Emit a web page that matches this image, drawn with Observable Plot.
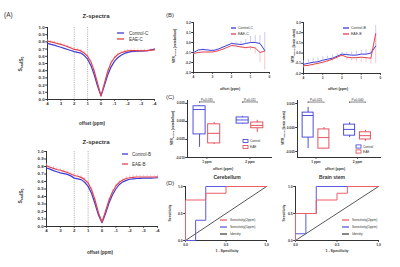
<!DOCTYPE html>
<html><head><meta charset="utf-8">
<script src="https://cdn.jsdelivr.net/npm/d3@7"></script>
<script src="https://cdn.jsdelivr.net/npm/@observablehq/plot@0.6"></script>
<style>
body{margin:0;background:#fff;}
#root{position:relative;width:400px;height:267px;overflow:hidden;background:#fff;}
</style></head><body><div id="root"></div>
<script>
// ---------- DATA ----------
const zOffsets = [4,3.75,3.5,3.25,3,2.75,2.5,2.25,2,1.75,1.5,1.25,1,0.75,0.5,0.25,0,-0.25,-0.5,-0.75,-1,-1.25,-1.5,-1.75,-2,-2.25,-2.5,-2.75,-3,-3.25,-3.5,-3.75,-4];
const zCtrlCereb = [0.78,0.765,0.755,0.74,0.725,0.71,0.695,0.68,0.665,0.655,0.645,0.61,0.56,0.47,0.34,0.18,0.05,0.19,0.34,0.45,0.53,0.58,0.615,0.64,0.655,0.665,0.668,0.67,0.67,0.675,0.68,0.69,0.70];
const zEaeCereb = [0.81,0.80,0.79,0.775,0.765,0.75,0.735,0.715,0.695,0.69,0.675,0.645,0.60,0.52,0.39,0.22,0.05,0.22,0.39,0.51,0.58,0.625,0.65,0.665,0.675,0.68,0.68,0.678,0.675,0.678,0.68,0.685,0.69];
const zEaeCerebErr = [0.02,0.02,0.02,0.02,0.02,0.02,0.02,0.02,0.025,0.02,0.02,0.02,0.025,0.03,0.03,0.02,0.01,0.02,0.03,0.03,0.025,0.02,0.02,0.02,0.02,0.02,0.02,0.02,0.02,0.02,0.02,0.02,0.02];
const zCtrlStem = [0.78,0.765,0.745,0.73,0.715,0.705,0.695,0.675,0.645,0.635,0.625,0.59,0.535,0.44,0.30,0.15,0.05,0.17,0.31,0.42,0.50,0.56,0.595,0.615,0.63,0.635,0.64,0.642,0.645,0.645,0.645,0.647,0.65];
const zEaeStem = [0.81,0.79,0.775,0.76,0.75,0.735,0.72,0.70,0.68,0.67,0.655,0.625,0.58,0.49,0.35,0.18,0.06,0.20,0.35,0.46,0.54,0.59,0.62,0.64,0.65,0.655,0.66,0.66,0.66,0.66,0.66,0.66,0.662];
const zEaeStemErr = [0.025,0.025,0.025,0.025,0.025,0.025,0.025,0.025,0.025,0.025,0.025,0.025,0.03,0.03,0.03,0.02,0.01,0.02,0.03,0.03,0.025,0.025,0.025,0.025,0.025,0.025,0.025,0.025,0.025,0.025,0.025,0.025,0.025];
const zXTicks = [4,3,2,1,0,-1,-2,-3,-4];
const zYTicks = [0,0.1,0.2,0.3,0.4,0.5,0.6,0.7,0.8,0.9,1.0];
const refOffsets = [2,1];

const mtrOffsets = [4,3.75,3.5,3.25,3,2.75,2.5,2.25,2,1.75,1.5,1.25,1,0.75,0.5,0.25];
const mtrCtrlCereb = [-0.10,-0.075,-0.07,-0.075,-0.08,-0.07,-0.05,-0.03,-0.01,-0.015,-0.02,-0.01,0.0,0.0,-0.01,-0.08];
const mtrCtrlCerebErr = [0.01,0.01,0.01,0.01,0.01,0.01,0.01,0.01,0.01,0.02,0.03,0.04,0.06,0.07,0.08,0.18];
const mtrEaeCereb = [-0.11,-0.10,-0.095,-0.095,-0.095,-0.085,-0.07,-0.05,-0.03,-0.035,-0.045,-0.05,-0.045,-0.055,-0.10,-0.085];
const mtrEaeCerebErr = [0.01,0.01,0.01,0.015,0.01,0.01,0.01,0.01,0.01,0.01,0.01,0.02,0.03,0.06,0.10,0.19];
const mtrCtrlStem = [-0.11,-0.10,-0.09,-0.085,-0.07,-0.06,-0.05,-0.03,-0.01,-0.015,-0.02,-0.02,-0.01,-0.01,0.0,0.07];
const mtrCtrlStemErr = [0.035,0.04,0.04,0.035,0.035,0.03,0.03,0.025,0.02,0.02,0.03,0.04,0.04,0.04,0.04,0.2];
const mtrEaeStem = [-0.125,-0.12,-0.11,-0.10,-0.09,-0.075,-0.06,-0.04,-0.02,-0.04,-0.045,-0.045,-0.04,-0.045,-0.05,0.19];
const mtrEaeStemErr = [0.02,0.02,0.02,0.02,0.02,0.02,0.02,0.02,0.02,0.03,0.03,0.04,0.05,0.05,0.06,0.29];
const mtrXTicks = [4,3,2,1,0];
const mtrYTicksCereb = [-0.3,-0.2,-0.1,0,0.1,0.2];
const mtrYTicksStem = [-0.2,-0.1,0,0.1,0.2,0.3];

const groups = ["Control","EAE"];
const boxPpm = [1,1,2,2];
const boxGroup = ["Control","EAE","Control","EAE"];
const cerebMin = [-0.0072,-0.0064,-0.0008,-0.0031];
const cerebQ1 = [-0.0036,-0.0061,-0.0006,-0.0019];
const cerebMed = [0.0033,-0.0033,0.0004,-0.0011];
const cerebQ3 = [0.0042,-0.0008,0.0011,-0.0003];
const cerebMax = [0.0044,-0.0003,0.0014,0.0003];
const stemMin = [-0.0044,-0.0045,-0.0021,-0.0029];
const stemQ1 = [-0.0021,-0.0044,-0.0017,-0.0025];
const stemMed = [0.0025,-0.0021,-0.0004,-0.0017];
const stemQ3 = [0.0031,-0.0004,0.0006,-0.0010];
const stemMax = [0.0042,0.0,0.0010,-0.0006];
const boxXTicks = [1,2];
const boxXLabels = ["1 ppm","2 ppm"];
const pCereb = ["0.035","0.011"];
const pStem = ["0.020","0.040"];
const boxYTicksCereb = [-0.010,-0.005,0,0.005];
const boxYTicksStem = [-0.005,0,0.005];

const rocTicks = [0,0.5,1];
const identityFpr = [0,1], identityTpr = [0,1];
const cerebFpr2 = [0,0,0.25,0.25,0.5,0.5,1], cerebTpr2 = [0,0.75,0.75,0.875,0.875,1,1];
const cerebFpr1 = [0,0.125,0.125,0.25,0.25,1], cerebTpr1 = [0,0,0.375,0.375,1,1];
const stemFpr2 = [0,0,0.25,0.25,0.5,0.5,0.625,0.625,1], stemTpr2 = [0,0.5,0.5,0.75,0.75,0.875,0.875,1,1];
const stemFpr1 = [0,0,0.125,0.125,0.25,0.25,1], stemTpr1 = [0,0.125,0.125,0.5,0.5,1,1];

// ---------- STYLE / LAYOUT ----------
const blue = "#3c3cd8", red = "#e2434d", pinkErr = "#f4a3a8", blueErr = "#a8a8f0";
const rocRed = "#ee5f68", rocBlue = "#5a5ade", ink = "#333";
const FONT = "'Liberation Sans', Arial, Helvetica, sans-serif";
const root = document.getElementById("root");

function S(fs){ return {background:"transparent", overflow:"visible", fontFamily:FONT, fontSize:fs+"px", fontWeight:"bold", color:ink}; }

function panel(frame, opts){
  const [x0,x1,y0,y1] = frame, pad = 14;
  const svg = Plot.plot({
    width:(x1-x0)+2*pad, height:(y1-y0)+2*pad,
    marginLeft:pad, marginRight:pad, marginTop:pad, marginBottom:pad,
    ...opts
  });
  svg.style.position = "absolute";
  svg.style.left = (x0-pad)+"px";
  svg.style.top = (y0-pad)+"px";
  svg.style.maxWidth = "none";
  root.append(svg);
}
const ax = (o) => ({tickSize:1.8, tickPadding:1, line:true, label:null, ...o});

// ---------- PANEL A ----------
function zPanel(frame, ctrl, eae, err){
  const rows = zOffsets.map((o,i)=>({o, c:ctrl[i], e:eae[i], hi:eae[i]+err[i]}));
  panel(frame, {
    style:S(4.4),
    x:ax({domain:[4,-4], ticks:zXTicks, tickFormat:d=>String(d)}),
    y:ax({domain:[0,1], ticks:zYTicks, tickFormat:d=>d.toFixed(1)}),
    marks:[
      Plot.ruleX(refOffsets,{stroke:"#8a8a8a", strokeWidth:0.6, strokeDasharray:"1.2,1"}),
      Plot.ruleX(rows,{x:"o", y1:"e", y2:"hi", stroke:pinkErr, strokeWidth:0.6}),
      Plot.line(rows,{x:"o", y:"c", stroke:blue, strokeWidth:1.2}),
      Plot.line(rows,{x:"o", y:"e", stroke:red, strokeWidth:1.2})
    ]
  });
}
zPanel([47,154,27,99], zCtrlCereb, zEaeCereb, zEaeCerebErr);
zPanel([46,157,151,226], zCtrlStem, zEaeStem, zEaeStemErr);

// ---------- PANEL B ----------
function mtrPanel(frame, yDomain, yTicks, ctrl, ctrlErr, eae, eaeErr){
  const rows = mtrOffsets.map((o,i)=>({o, c:ctrl[i], ch:ctrl[i]+ctrlErr[i], e:eae[i], el:eae[i]-eaeErr[i]}));
  panel(frame, {
    style:S(3.2),
    x:ax({domain:[4,0], ticks:mtrXTicks, tickFormat:d=>String(d)}),
    y:ax({domain:yDomain, ticks:yTicks, tickFormat:d=>d.toFixed(1)}),
    marks:[
      Plot.ruleX(rows,{x:"o", y1:"c", y2:"ch", stroke:blueErr, strokeWidth:0.6}),
      Plot.ruleX(rows,{x:"o", y1:"e", y2:"el", stroke:pinkErr, strokeWidth:0.6}),
      Plot.line(rows,{x:"o", y:"c", stroke:blue, strokeWidth:1}),
      Plot.line(rows,{x:"o", y:"e", stroke:red, strokeWidth:1})
    ]
  });
}
mtrPanel([193,269,22,72], [-0.3,0.2], mtrYTicksCereb, mtrCtrlCereb, mtrCtrlCerebErr, mtrEaeCereb, mtrEaeCerebErr);
mtrPanel([303,380,22,73], [-0.2,0.3], mtrYTicksStem, mtrCtrlStem, mtrCtrlStemErr, mtrEaeStem, mtrEaeStemErr);

// ---------- PANEL C ----------
function boxPanel(frame, xDomain, yDomain, yTicks, st, pvals, shift, bw, bY, bTick){
  const rows = boxPpm.map((p,i)=>({p, g:boxGroup[i], min:st[0][i], q1:st[1][i], med:st[2][i], q3:st[3][i], max:st[4][i]}));
  const cx = d => d.p + (d.g==="Control" ? -shift : shift);
  const pRows = boxXTicks.map((p,i)=>({p, label:"P="+pvals[i]}));
  panel(frame, {
    style:S(3.2),
    color:{domain:groups, range:[blue, red]},
    x:ax({domain:xDomain, ticks:boxXTicks, tickFormat:d=>boxXLabels[boxXTicks.indexOf(d)]}),
    y:ax({domain:yDomain, ticks:yTicks, tickFormat:d=>d.toFixed(3)}),
    marks:[
      Plot.ruleX(rows,{x:cx, y1:"min", y2:"q1", stroke:"g", strokeWidth:0.9}),
      Plot.ruleX(rows,{x:cx, y1:"q3", y2:"max", stroke:"g", strokeWidth:0.9}),
      Plot.rect(rows,{x1:d=>cx(d)-bw/2, x2:d=>cx(d)+bw/2, y1:"q1", y2:"q3", stroke:"g", fill:"white", strokeWidth:0.9}),
      Plot.ruleY(rows,{y:"med", x1:d=>cx(d)-bw/2, x2:d=>cx(d)+bw/2, stroke:"g", strokeWidth:0.9}),
      Plot.ruleY(pRows,{y:()=>bY, x1:d=>d.p-shift, x2:d=>d.p+shift, stroke:ink, strokeWidth:0.6}),
      Plot.ruleX(pRows,{x:d=>d.p-shift, y1:()=>bY, y2:()=>bY-bTick, stroke:ink, strokeWidth:0.6}),
      Plot.ruleX(pRows,{x:d=>d.p+shift, y1:()=>bY, y2:()=>bY-bTick, stroke:ink, strokeWidth:0.6}),
      Plot.text(pRows,{x:"p", y:()=>bY, text:"label", dy:-2.4, fontSize:3.2, fontWeight:"normal"})
    ]
  });
}
boxPanel([187,271,100,157], [0.55,2.5], [-0.010,0.0058], boxYTicksCereb,
  [cerebMin,cerebQ1,cerebMed,cerebQ3,cerebMax], pCereb, 0.17, 0.28, 0.0054, 0.0004);
boxPanel([297,380,100,157], [0.554,2.554], [-0.00625,0.005625], boxYTicksStem,
  [stemMin,stemQ1,stemMed,stemQ3,stemMax], pStem, 0.19, 0.265, 0.0053, 0.0003);

// ---------- PANEL D ----------
function rocPanel(frame, f2, t2, f1, t1){
  const zip = (f,t) => f.map((v,i)=>({fpr:v, tpr:t[i]}));
  panel(frame, {
    style:S(3.4),
    x:ax({domain:[0,1], ticks:rocTicks, tickFormat:d=>d.toFixed(1)}),
    y:ax({domain:[0,1], ticks:rocTicks, tickFormat:d=>d.toFixed(1)}),
    marks:[
      Plot.line(zip(identityFpr,identityTpr),{x:"fpr", y:"tpr", stroke:"#444", strokeWidth:0.9}),
      Plot.line(zip(f1,t1),{x:"fpr", y:"tpr", stroke:rocBlue, strokeWidth:1}),
      Plot.line(zip(f2,t2),{x:"fpr", y:"tpr", stroke:rocRed, strokeWidth:1})
    ]
  });
}
rocPanel([185,266,186,240], cerebFpr2, cerebTpr2, cerebFpr1, cerebTpr1);
rocPanel([295,378,186,240], stemFpr2, stemTpr2, stemFpr1, stemTpr1);

// ---------- TEXT OVERLAY ----------
const ov = d3.create("svg").attr("width",400).attr("height",267)
  .style("position","absolute").style("left","0px").style("top","0px").style("overflow","visible")
  .style("font-family",FONT).style("fill",ink);
root.append(ov.node());

function label(parts, x, y, {size=4, bold=true, anchor="middle", rotate=false, fill=ink}={}){
  const t = ov.append("text").attr("font-size",size).attr("font-weight",bold?"bold":"normal")
    .attr("text-anchor",anchor).attr("fill",fill).attr("dy","0.35em")
    .attr("transform",`translate(${x},${y})${rotate?" rotate(-90)":""}`);
  (Array.isArray(parts)?parts:[parts]).forEach(p=>{
    if (typeof p === "string") t.append("tspan").text(p);
    else { t.append("tspan").attr("font-size",size*0.7).attr("dy","0.35em").text(p.sub);
           t.append("tspan").attr("dy","-0.35em").text(""); }
  });
}
function legLine(x1,x2,y,color,text,tx,size){
  ov.append("line").attr("x1",x1).attr("x2",x2).attr("y1",y).attr("y2",y).attr("stroke",color).attr("stroke-width",1.3);
  label(text, tx, y, {size, bold:false, anchor:"start"});
}
function legBox(x,y,color,text,tx,size){
  ov.append("rect").attr("x",x).attr("y",y-1.6).attr("width",5).attr("height",3.2).attr("fill","none").attr("stroke",color).attr("stroke-width",0.8);
  label(text, tx, y, {size, bold:false, anchor:"start"});
}

// A
label("(A)", 4, 15, {size:6.5, bold:false, anchor:"start"});
label("Z-spectra", 96, 16, {size:6});
label("Z-spectra", 96, 142, {size:6});
label("offset (ppm)", 92, 123, {size:4.5});
label("offset (ppm)", 100, 252, {size:4.5});
label(["S",{sub:"sat"},"/S",{sub:"0"}], 20, 64, {size:5, rotate:true});
label(["S",{sub:"sat"},"/S",{sub:"0"}], 20, 196, {size:5, rotate:true});
legLine(117,124,33,blue,"Control-C",129,4.5);
legLine(117,124,39,red,"EAE-C",129,4.5);
legLine(122,128,154,blue,"Control-B",132,4.5);
legLine(122,128,164,red,"EAE-B",132,4.5);

// B
label("(B)", 166, 15, {size:6, bold:false, anchor:"start"});
label(["MTR",{sub:"Rasym"}," (cerebellum)"], 174, 46, {size:3.2, rotate:true});
label(["MTR",{sub:"Rasym"}," (brain stem)"], 293, 46, {size:3.2, rotate:true});
label("offset (ppm)", 230, 89, {size:3.5});
label("offset (ppm)", 338, 89, {size:3.5});
legLine(231,236,28,blue,"Control-C",238,3.5);
legLine(231,236,34,red,"EAE-C",238,3.5);
legLine(343,349,28,blue,"Control-B",351,3.5);
legLine(343,349,34,red,"EAE-B",351,3.5);

// C
label("(C)", 166, 97, {size:6, bold:false, anchor:"start"});
label(["MTR",{sub:"Rasym"}," (cerebellum)"], 172, 128, {size:3.2, rotate:true});
label(["MTR",{sub:"Rasym"}," (brain stem)"], 283, 128, {size:3.2, rotate:true});
label("offset (ppm)", 223, 169, {size:3.5});
label("offset (ppm)", 335, 169, {size:3.5});
legBox(243,141,blue,"Control",250,3.2);
legBox(243,147,red,"EAE",250,3.2);
legBox(356,146.5,blue,"Control",363,3.2);
legBox(356,151.5,red,"EAE",363,3.2);

// D
label("(D)", 166, 183, {size:6, bold:false, anchor:"start"});
label("Cerebellum", 227, 177, {size:5});
label("Brain stem", 332, 177, {size:5});
label("Sensitivity", 170, 213, {size:3.4, rotate:true});
label("Sensitivity", 284, 213, {size:3.4, rotate:true});
label("1 - Specificity", 227, 251, {size:3.6});
label("1 - Specificity", 337, 251, {size:3.6});
legLine(220,227,220,rocRed,"Sensitivity(2ppm)",230,3.3);
legLine(220,227,227,rocBlue,"Sensitivity(1ppm)",230,3.3);
legLine(220,227,234,"#444","Identity",230,3.3);
legLine(342,349,220,rocRed,"Sensitivity(2ppm)",352,3.3);
legLine(342,349,227,rocBlue,"Sensitivity(1ppm)",352,3.3);
legLine(342,349,234,"#444","Identity",352,3.3);
</script></body></html>
